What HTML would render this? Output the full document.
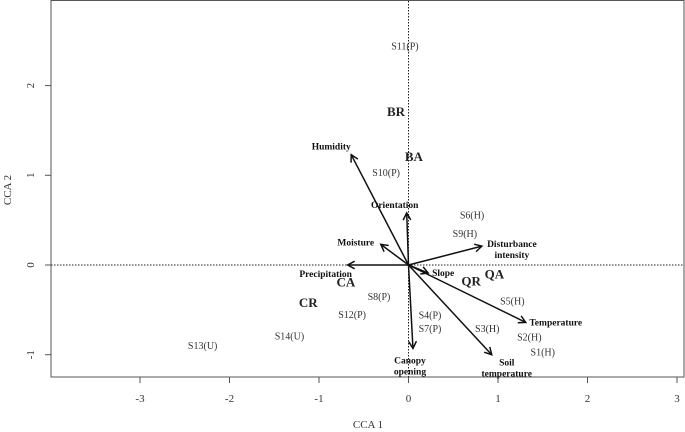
<!DOCTYPE html>
<html><head><meta charset="utf-8"><style>
html,body{margin:0;padding:0;background:#fff}
svg{display:block}
text{font-family:"Liberation Serif",serif}
</style></head><body>
<svg id="chart" width="685" height="432">
<rect x="51" y="0.5" width="633" height="376.5" fill="none" stroke="#555" stroke-width="1"/>
<g id="axes"></g>
<g id="marks"></g>
<text x="368" y="428" font-size="11" text-anchor="middle" fill="#333">CCA 1</text>
<text transform="translate(11,190) rotate(-90)" font-size="11" text-anchor="middle" fill="#333">CCA 2</text>
</svg>
<script>
const xTicks=[-3,-2,-1,0,1,2,3];
const yTicks=[-1,0,1,2];
const envNames=["Humidity","Orientation","Moisture","Disturbance intensity","Precipitation","Slope","Temperature","Soil temperature","Canopy opening"];
const envX=[-0.64,-0.02,-0.31,0.82,-0.68,0.22,1.31,0.93,0.05];
const envY=[1.23,0.58,0.23,0.21,0.0,-0.09,-0.64,-1.0,-0.93];
const siteNames=["S11(P)","S10(P)","S6(H)","S9(H)","S5(H)","S2(H)","S1(H)","S3(H)","S4(P)","S7(P)","S8(P)","S12(P)","S14(U)","S13(U)"];
const siteX=[-0.04,-0.25,0.71,0.63,1.16,1.35,1.5,0.88,0.24,0.24,-0.33,-0.63,-1.33,-2.3];
const siteY=[2.44,1.03,0.56,0.35,-0.4,-0.8,-0.97,-0.71,-0.56,-0.71,-0.35,-0.55,-0.79,-0.9];
const spNames=["BR","BA","CA","QR","QA","CR"];
const spX=[-0.14,0.06,-0.7,0.7,0.96,-1.12];
const spY=[1.71,1.21,-0.19,-0.18,-0.1,-0.42];

const X0=408.5,SX=89.5,Y0=265,SY=89.7;
const sx=v=>X0+v*SX, sy=v=>Y0-v*SY;
const NS="http://www.w3.org/2000/svg";
function mk(tag,attrs,parent,txt){const e=document.createElementNS(NS,tag);for(const k in attrs)e.setAttribute(k,attrs[k]);if(txt!==undefined)e.textContent=txt;parent.appendChild(e);return e;}
const axes=document.getElementById('axes'), marks=document.getElementById('marks');
xTicks.forEach(t=>{
  const l=mk('line',{x1:sx(t),x2:sx(t),y1:377,y2:383,stroke:'#555'},axes);
  
  
  const tx=mk('text',{x:sx(t),y:402,'font-size':11,'text-anchor':'middle',fill:'#333'},axes,String(t));
  
  
});
yTicks.forEach(t=>{
  const l=mk('line',{x1:45,x2:51,y1:sy(t),y2:sy(t),stroke:'#555'},axes);
  
  
  const tx=mk('text',{transform:`translate(34,${sy(t)}) rotate(-90)`,'font-size':11,'text-anchor':'middle',fill:'#333'},axes,String(t));
  
  
});
const h=mk('line',{x1:51,x2:684,y1:sy(0),y2:sy(0),stroke:'#222','stroke-dasharray':'1.5,1.5'},axes);


const v=mk('line',{x1:sx(0),x2:sx(0),y1:1,y2:377,stroke:'#222','stroke-dasharray':'1.5,1.5'},axes);



const labelOff={"Humidity":[-20,-8],"Orientation":[-12,-8],"Moisture":[-25,-2],"Disturbance intensity":[30,-2],"Precipitation":[-22,9],"Slope":[15,0],"Temperature":[30,0],"Soil temperature":[15,8],"Canopy opening":[-3,12]};
envNames.forEach((n,i)=>{
  const x1=sx(0),y1=sy(0),x2=sx(envX[i]),y2=sy(envY[i]);
  const g=mk('g',{},marks);
  
  
  mk('line',{x1,y1,x2,y2,stroke:'#111','stroke-width':1.5},g);
  const a=Math.atan2(y2-y1,x2-x1),L=8,w=0.5;
  mk('polyline',{points:`${x2-L*Math.cos(a-w)},${y2-L*Math.sin(a-w)} ${x2},${y2} ${x2-L*Math.cos(a+w)},${y2-L*Math.sin(a+w)}`,fill:'none',stroke:'#111','stroke-width':1.5},g);
  const o=labelOff[n]||[0,0];
  const words=n==="Disturbance intensity"?["Disturbance","intensity"]:n==="Soil temperature"?["Soil","temperature"]:n==="Canopy opening"?["Canopy","opening"]:[n];
  const lx=x2+o[0], ly=y2+o[1]+3;
  words.forEach((w2,k)=>mk('text',{x:lx,y:ly+k*11,'font-size':9.5,'font-weight':'bold','text-anchor':'middle',fill:'#111'},g,w2));
});
siteNames.forEach((n,i)=>{
  const t=mk('text',{x:sx(siteX[i]),y:sy(siteY[i])+3.5,'font-size':10,'text-anchor':'middle',fill:'#333'},marks,n);
  
  
});
spNames.forEach((n,i)=>{
  const t=mk('text',{x:sx(spX[i]),y:sy(spY[i])+4.5,'font-size':13,'font-weight':'bold','text-anchor':'middle',fill:'#222'},marks,n);
  
  
});
</script>
</body></html>
